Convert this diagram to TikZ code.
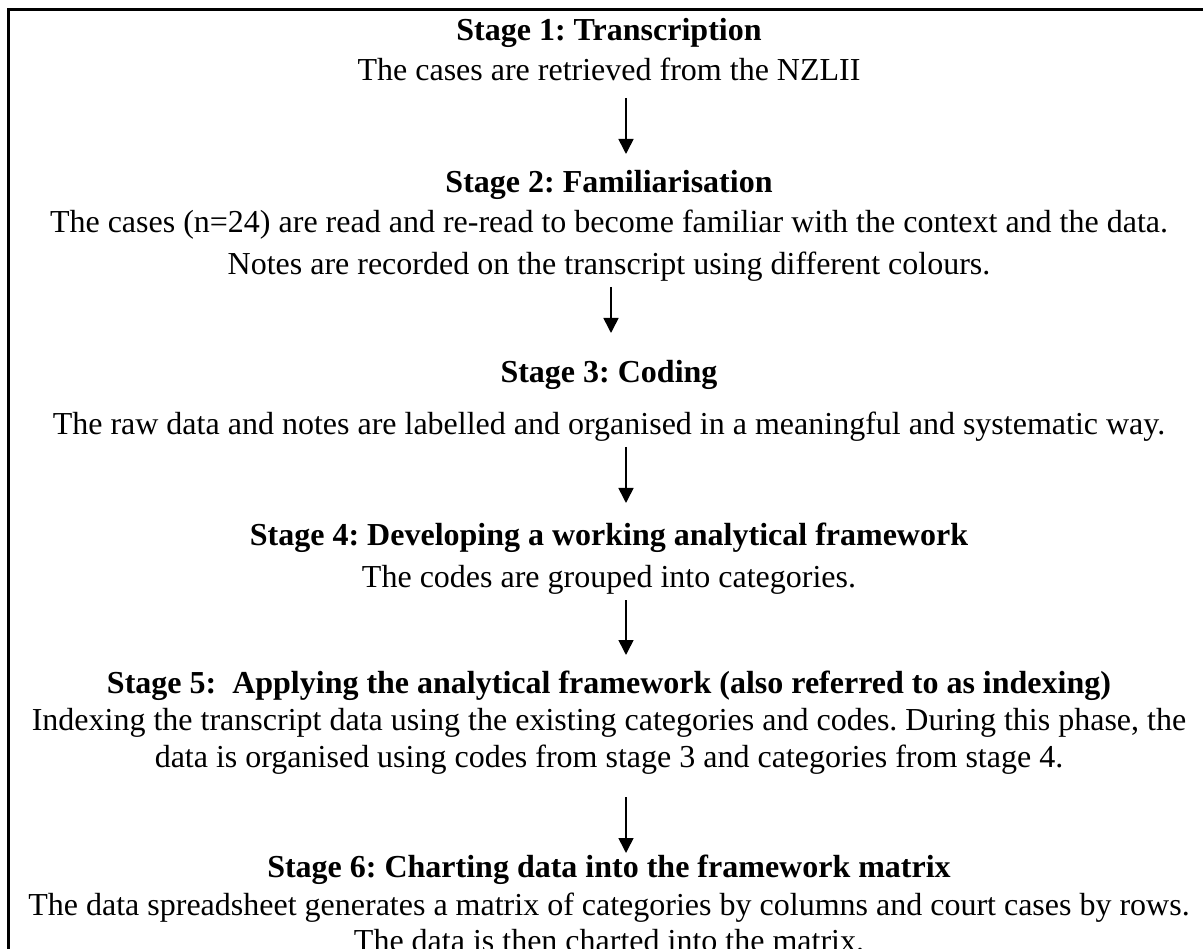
\documentclass[tikz,border=0pt]{standalone}
\usepackage{fontspec}
\setmainfont{Liberation Serif}
\usetikzlibrary{arrows.meta,positioning}
\frenchspacing

\begin{document}
\begin{tikzpicture}[
  x=1pt, y=1pt,
  stagetitle/.style={anchor=base, inner sep=0pt, font=\fontsize{32}{38}\selectfont\bfseries},
  stagetext/.style={anchor=base, inner sep=0pt, font=\fontsize{32}{38}\selectfont},
  flow/.style={->, line width=1.6pt},
  >={Triangle[width=15pt,length=15pt]}
]
\useasboundingbox (0,0) rectangle (1203,-949);

% --- Marco ---
\begin{scope}
  \clip (0,0) rectangle (1203,-949);
  \draw[line width=3pt] (8.5,-10) rectangle (1400,-1200);
\end{scope}

% --- Etapas ---
\node[stagetitle] (tit1) at (609,-41) {Stage 1: Transcription};
\node[stagetext] (txt1) at (609,-81) {The cases are retrieved from the NZLII};

\node[stagetitle] (tit2) at (609,-193) {Stage 2: Familiarisation};
\node[stagetext] (txt2a) at (609,-233) {The cases (n=24) are read and re-read to become familiar with the context and the data.};
\node[stagetext] (txt2b) at (609,-275) {Notes are recorded on the transcript using different colours.};

\node[stagetitle] (tit3) at (609,-383) {Stage 3: Coding};
\node[stagetext] (txt3) at (609,-435) {The raw data and notes are labelled and organised in a meaningful and systematic way.};

\node[stagetitle] (tit4) at (609,-545) {Stage 4: Developing a working analytical framework};
\node[stagetext] (txt4) at (609,-587) {The codes are grouped into categories.};

\node[stagetitle] (tit5) at (609,-693) {Stage 5:~ Applying the analytical framework (also referred to as indexing)};
\node[stagetext] (txt5a) at (609,-730) {Indexing the transcript data using the existing categories and codes. During this phase, the};
\node[stagetext] (txt5b) at (609,-767) {data is organised using codes from stage 3 and categories from stage 4.};

\node[stagetitle] (tit6) at (609,-877) {Stage 6: Charting data into the framework matrix};
\node[stagetext] (txt6a) at (609,-915) {The data spreadsheet generates a matrix of categories by columns and court cases by rows.};
\node[stagetext] (txt6b) at (609,-951) {The data is then charted into the matrix.};

% --- Flechas ---
\draw[flow] ([xshift=17pt,yshift=-17pt]txt1.base) -- ([xshift=17pt,yshift=39pt]tit2.base);
\draw[flow] ([xshift=2pt,yshift=-12pt]txt2b.base) -- ([xshift=2pt,yshift=50pt]tit3.base);
\draw[flow] ([xshift=17pt,yshift=-12pt]txt3.base) -- ([xshift=17pt,yshift=42pt]tit4.base);
\draw[flow] ([xshift=17pt,yshift=-13pt]txt4.base) -- ([xshift=17pt,yshift=38pt]tit5.base);
\draw[flow] ([xshift=17pt,yshift=-30pt]txt5b.base) -- ([xshift=17pt,yshift=24pt]tit6.base);

\end{tikzpicture}
\end{document}
